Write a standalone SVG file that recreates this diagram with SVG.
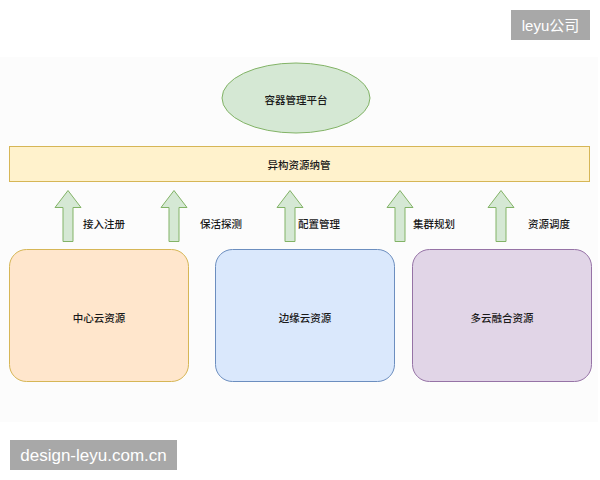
<svg xmlns="http://www.w3.org/2000/svg" width="600" height="480" viewBox="0 0 600 480">
<style>
.t{font-family:"Noto Sans CJK SC","Noto Sans",sans-serif;font-size:10.5px;font-weight:500;fill:#1a1a1a;text-anchor:middle;dominant-baseline:central}
.lbl{font-family:"Noto Sans CJK SC","Noto Sans",sans-serif;font-size:10.5px;font-weight:500;fill:#1a1a1a;dominant-baseline:central}
.arr{fill:#d5e8d4;stroke:#82b366;stroke-width:1}
.wm{font-family:"Liberation Sans","Noto Sans CJK SC",sans-serif;fill:#ffffff;dominant-baseline:central}
</style>
<defs>
<path id="ua" d="M0,0 L13,17 L5,17 L5,51 L-5,51 L-5,17 L-13,17 Z"/>
</defs>
<rect x="0" y="0" width="600" height="480" fill="#ffffff"/>
<rect x="0" y="57" width="598" height="365" fill="#fcfcfc"/>
<g id="platform">
<ellipse cx="296" cy="98" rx="74" ry="35" fill="#d5e8d4" stroke="#82b366" stroke-width="1"/>
<text class="t" x="296" y="99">容器管理平台</text>
</g>
<g id="hetero">
<rect x="9.5" y="146.5" width="580" height="35" fill="#fff2cc" stroke="#d6b656" stroke-width="1"/>
<text class="t" x="299" y="164">异构资源纳管</text>
</g>
<g id="connectors">
<use href="#ua" class="arr" x="68" y="190.5"/>
<use href="#ua" class="arr" x="174" y="190.5"/>
<use href="#ua" class="arr" x="290" y="190.5"/>
<use href="#ua" class="arr" x="400" y="190.5"/>
<use href="#ua" class="arr" x="501" y="190.5"/>
<text class="lbl" x="83" y="223">接入注册</text>
<text class="lbl" x="200" y="223">保活探测</text>
<text class="lbl" x="298" y="223">配置管理</text>
<text class="lbl" x="413" y="223">集群规划</text>
<text class="lbl" x="528" y="223">资源调度</text>
</g>
<g id="center">
<rect x="9.5" y="249.5" width="179" height="132" rx="17" fill="#ffe6cc" stroke="#d6b656" stroke-width="1"/>
<text class="t" x="99" y="317">中心云资源</text>
</g>
<g id="edge">
<rect x="215.5" y="249.5" width="179" height="132" rx="17" fill="#dae8fc" stroke="#6c8ebf" stroke-width="1"/>
<text class="t" x="305" y="317">边缘云资源</text>
</g>
<g id="multi">
<rect x="412.5" y="249.5" width="179" height="132" rx="17" fill="#e1d5e7" stroke="#9673a6" stroke-width="1"/>
<text class="t" x="502" y="317">多云融合资源</text>
</g>
<g id="watermarks">
<rect x="511" y="10" width="79" height="30" fill="#a8a8a8"/>
<text class="wm" x="550.5" y="25.5" font-size="15" text-anchor="middle">leyu公司</text>
<rect x="10" y="440" width="167" height="30" fill="#a8a8a8"/>
<text class="wm" x="93.5" y="455.5" font-size="17" text-anchor="middle">design-leyu.com.cn</text>
</g>
</svg>
